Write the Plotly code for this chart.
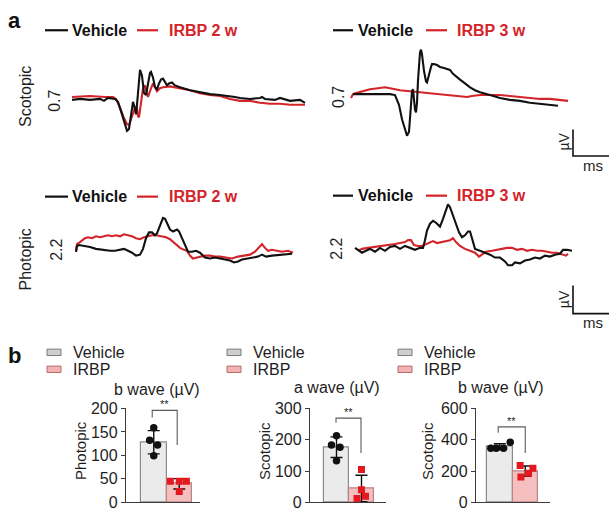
import numpy as np
import plotly.graph_objects as go

W, H = 609, 520
FONT = "Liberation Sans, Arial, Helvetica, sans-serif"
INK = "#1e1e1e"
BLACK = "#111111"
RED = "#d3242a"
SQUARE_RED = "#e3191f"
VEH_FILL, VEH_EDGE = "#ebebeb", "#8a8a8a"
IRBP_FILL, IRBP_EDGE = "#f5bfbf", "#b98484"

# ---------------- ERG traces: time (ms) and amplitude (uV) ----------------
# Scotopic, Vehicle vs IRBP 2 w
TL_VEH_T = [0, 8, 18, 28, 32, 36, 43, 46, 50, 53, 55, 57, 59, 60, 61, 63, 64, 65, 67, 68,
            70, 72, 74, 76, 78, 79, 81, 83, 85, 87, 89, 91, 93, 95, 97, 100, 103, 108, 118, 128,
            138, 148, 158, 163, 168, 178, 188, 190, 193, 203, 208, 218, 228, 231, 233]
TL_VEH_V = [-4, 0, -4, 0, -8, 4, 0, -12, -64, -112, -132, -124, -76, -36, -12, -40, -64, -24, 76, 120,
            96, 24, 16, 64, 108, 112, 88, 48, 40, 64, 80, 84, 68, 56, 64, 68, 56, 48, 36, 28,
            20, 16, 12, 8, 4, 0, 4, 8, 0, -4, 4, -8, -4, -12, -16]
TL_IRBP_T = [0, 18, 33, 41, 44, 48, 52, 55, 57, 59, 61, 63, 65, 66, 67, 69, 71, 73, 75, 76,
             78, 80, 81, 83, 85, 88, 91, 98, 103, 108, 118, 128, 138, 148, 158, 168, 178, 188, 198, 208,
             218, 233]
TL_IRBP_V = [8, 12, 8, 8, 0, -36, -80, -104, -108, -84, -52, -36, -40, -72, -76, -24, 44, 56, 28, 8,
             32, 56, 64, 48, 32, 44, 48, 52, 48, 44, 36, 24, 16, 12, 0, -8, -8, -16, -20, -20,
             -24, -24]

# Scotopic, Vehicle vs IRBP 3 w
TR_VEH_T = [2, 9, 19, 29, 39, 44, 48, 51, 54, 56, 58, 59, 60, 61, 62, 63, 64, 65, 66, 67,
            68, 69, 70, 71, 73, 75, 76, 78, 80, 81, 83, 86, 89, 93, 96, 99, 102, 105, 109, 114,
            119, 124, 129, 139, 149, 159, 169, 179, 189, 199, 207]
TR_VEH_V = [0, 0, 0, 0, 0, -4, -44, -104, -152, -172, -156, -104, -44, 12, 20, -24, -64, -76, -36, 56,
            136, 172, 184, 164, 96, 52, 48, 84, 112, 124, 124, 120, 112, 108, 104, 100, 84, 72, 60, 44,
            28, 16, 8, -4, -16, -24, -28, -36, -40, -44, -48]
TR_IRBP_T = [0, 2, 5, 11, 19, 27, 34, 39, 44, 49, 59, 69, 79, 89, 99, 109, 116, 121, 129, 139,
             149, 159, 169, 179, 189, 199, 209, 217]
TR_IRBP_V = [-16, 0, 4, 12, 20, 24, 28, 24, 20, 16, 12, 8, 4, 0, -4, -8, -12, -8, -4, -4,
             -4, -8, -12, -16, -20, -20, -24, -28]

# Photopic, Vehicle vs IRBP 2 w
BL_VEH_T = [0, 1, 3, 8, 14, 20, 26, 34, 39, 44, 48, 52, 56, 60, 64, 67, 70, 73, 76, 79,
            81, 84, 87, 89, 92, 94, 97, 101, 103, 106, 109, 112, 116, 120, 124, 129, 134, 139, 144, 149,
            154, 158, 162, 166, 171, 176, 182, 186, 190, 196, 204, 210, 216]
BL_VEH_V = [-5, 10, 12.5, 10, 7.5, 2.5, 0, -2.5, -2.5, 0, 2.5, -2.5, -7.5, -15, -12.5, 2.5, 30, 45, 45, 37.5,
            42.5, 62.5, 82.5, 80, 62.5, 52.5, 47.5, 52.5, 47.5, 30, 10, -5, -5, -2.5, -7.5, -20, -22.5, -20, -22.5, -25,
            -27.5, -32.5, -30, -25, -22.5, -20, -17.5, -12.5, -17.5, -15, -12.5, -12.5, -10]
BL_IRBP_T = [0, 1, 4, 9, 12, 16, 20, 24, 28, 32, 36, 40, 44, 48, 52, 56, 60, 64, 68, 72,
             76, 80, 84, 87, 90, 94, 97, 101, 104, 108, 111, 114, 117, 121, 124, 129, 134, 139, 144, 150,
             156, 162, 169, 174, 179, 182, 186, 189, 192, 196, 202, 206, 212, 217]
BL_IRBP_V = [-5, 15, 20, 30, 32.5, 30, 35, 32.5, 35, 37.5, 35, 37.5, 35, 40, 37.5, 35, 30, 27.5, 32.5, 35,
             37.5, 37.5, 35, 32.5, 32.5, 27.5, 20, 10, 5, 0, -2.5, -15, -22.5, -20, -17.5, -15, -15, -17.5, -17.5, -20,
             -22.5, -17.5, -15, -12.5, -5, 2.5, 15, 5, -2.5, 0, -2.5, -5, -2.5, -7.5]

# Photopic, Vehicle vs IRBP 3 w
BR_VEH_T = [0, 3, 7, 11, 15, 20, 25, 30, 35, 40, 45, 50, 55, 60, 65, 68, 70, 72, 75, 78,
            81, 85, 88, 91, 93, 95, 98, 101, 104, 107, 110, 113, 115, 117, 120, 125, 130, 135, 140, 145,
            150, 153, 157, 160, 165, 170, 175, 180, 185, 190, 195, 200, 205, 208, 212, 217]
BR_VEH_V = [5, 0, -7.5, -2.5, 2.5, -5, 5, -2.5, 7.5, 10, 2.5, 10, 5, 0, 5, 5, 25, 50, 67.5, 75,
            70, 60, 80, 105, 117.5, 110, 87.5, 62.5, 45, 32.5, 37.5, 47.5, 47.5, 30, 2.5, -2.5, -7.5, -12.5, -20, -20,
            -30, -40, -40, -32.5, -35, -27.5, -25, -20, -22.5, -15, -17.5, -12.5, -10, 0, 0, -2.5]
BR_IRBP_T = [3, 7, 13, 20, 25, 30, 35, 40, 45, 50, 53, 56, 59, 63, 67, 71, 75, 78, 82, 86,
             90, 95, 98, 101, 105, 110, 115, 120, 124, 127, 131, 137, 142, 147, 152, 157, 162, 167, 172, 177,
             182, 187, 192, 197, 202, 207, 211, 213]
BR_IRBP_V = [-2.5, 2.5, 5, 7.5, 10, 10, 12.5, 15, 17.5, 20, 25, 25, 12.5, 10, 10, 15, 20, 22.5, 17.5, 20,
             22.5, 25, 30, 20, 10, 2.5, -2.5, -7.5, -17.5, -12.5, -5, -2.5, 0, 2.5, 5, 5, 0, 2.5, -2.5, 0,
             -2.5, -2.5, -5, -7.5, -7.5, -12.5, -15, -10]

# Scale bars (uV, ms)
SCOT_BAR_UV, PHOT_BAR_UV, BAR_MS = 110, 72.5, 40

# ---------------- Bar chart data (individual animals) ----------------
GROUPS = ["Vehicle", "IRBP"]
PHOT_B_VEH = [159, 132, 122, 99]
PHOT_B_IRBP = [45, 45, 45, 23]
SCOT_A_VEH = [213, 183, 176, 133]
SCOT_A_IRBP = [105, 40, 19, 12]
SCOT_B_VEH = [346, 346, 346, 384]
SCOT_B_IRBP = [235, 217, 186, 161]
PHOT_B_TICKS = [0, 50, 100, 150, 200]
SCOT_A_TICKS = [0, 100, 200, 300]
SCOT_B_TICKS = [0, 200, 400, 600]

# ---------------- layout helpers ----------------
def fx(p):
    return p / W


def fy(p):
    return 1 - p / H


fig = go.Figure()
layout = {}
annotations = []
shapes = []

MS_PX = 1.0
erg_panels = [
    dict(ax=1, veh=(TL_VEH_T, TL_VEH_V), irbp=(TL_IRBP_T, TL_IRBP_V), origin=(72, 94), uv_px=4.0,
         box=(66, 30, 312, 150), bar=None),
    dict(ax=2, veh=(TR_VEH_T, TR_VEH_V), irbp=(TR_IRBP_T, TR_IRBP_V), origin=(351, 89), uv_px=4.0,
         box=(345, 28, 609, 165), bar=(222, -256, SCOT_BAR_UV)),
    dict(ax=3, veh=(BL_VEH_T, BL_VEH_V), irbp=(BL_IRBP_T, BL_IRBP_V), origin=(76, 250), uv_px=2.5,
         box=(70, 190, 300, 300), bar=None),
    dict(ax=4, veh=(BR_VEH_T, BR_VEH_V), irbp=(BR_IRBP_T, BR_IRBP_V), origin=(355, 250), uv_px=2.5,
         box=(349, 185, 609, 335), bar=(218, -165, PHOT_BAR_UV)),
]

for p in erg_panels:
    n = p["ax"]
    xa, ya = ("x", "y") if n == 1 else (f"x{n}", f"y{n}")
    xname, yname = ("xaxis", "yaxis") if n == 1 else (f"xaxis{n}", f"yaxis{n}")
    l, t, r, b = p["box"]
    x0, base = p["origin"]
    uv = p["uv_px"]
    layout[xname] = dict(domain=[fx(l), fx(r)], range=[(l - x0) * MS_PX, (r - x0) * MS_PX],
                         visible=False, anchor=ya, fixedrange=True)
    layout[yname] = dict(domain=[fy(b), fy(t)], range=[(base - b) * uv, (base - t) * uv],
                         visible=False, anchor=xa, fixedrange=True)
    fig.add_trace(go.Scatter(x=p["irbp"][0], y=p["irbp"][1], mode="lines",
                             line=dict(color=RED, width=2.1), xaxis=xa, yaxis=ya, hoverinfo="skip"))
    fig.add_trace(go.Scatter(x=p["veh"][0], y=p["veh"][1], mode="lines",
                             line=dict(color=BLACK, width=2.1), xaxis=xa, yaxis=ya, hoverinfo="skip"))
    if p["bar"]:
        t0, v0, dv = p["bar"]
        fig.add_trace(go.Scatter(x=[t0, t0, t0 + BAR_MS], y=[v0 + dv, v0, v0], mode="lines",
                                 line=dict(color=BLACK, width=1.6), xaxis=xa, yaxis=ya, hoverinfo="skip"))

# panel a legends (line samples + labels)
legend_rows = [
    (23, 45, 68, 70, 137, 158, 167, "IRBP 2 w"),
    (23, 333, 353, 356, 426, 447, 455, "IRBP 3 w"),
    (195, 45, 68, 70, 137, 158, 167, "IRBP 2 w"),
    (194, 333, 353, 356, 426, 447, 455, "IRBP 3 w"),
]
for yy, a0, a1, tv, b0, b1, ti, lab in legend_rows:
    shapes.append(dict(type="line", xref="paper", yref="paper", x0=fx(a0), x1=fx(a1), y0=fy(yy), y1=fy(yy),
                       line=dict(color=BLACK, width=2.2)))
    shapes.append(dict(type="line", xref="paper", yref="paper", x0=fx(b0), x1=fx(b1), y0=fy(yy), y1=fy(yy),
                       line=dict(color=RED, width=2.2)))
    annotations.append(dict(text="<b>Vehicle</b>", x=fx(tv), y=fy(yy), xref="paper", yref="paper",
                            xanchor="left", yanchor="middle", showarrow=False,
                            font=dict(family=FONT, size=16, color=BLACK)))
    annotations.append(dict(text=f"<b>{lab}</b>", x=fx(ti), y=fy(yy), xref="paper", yref="paper",
                            xanchor="left", yanchor="middle", showarrow=False,
                            font=dict(family=FONT, size=16, color=RED)))

# rotated labels in panel a
rot_labels = [
    ("Scotopic", 26, 92, 16), ("0.7", 55, 96, 16), ("0.7", 339, 92, 16),
    ("Photopic", 25, 260, 16), ("2.2", 57, 250, 16), ("2.2", 337, 249, 16),
    ("µV", 564, 138, 14), ("µV", 564, 301, 14),
]
for txt, xx, yy, sz in rot_labels:
    annotations.append(dict(text=txt, x=fx(xx), y=fy(yy), xref="paper", yref="paper", textangle=-90,
                            xanchor="center", yanchor="middle", showarrow=False,
                            font=dict(family=FONT, size=sz, color=INK)))
for yy in (163, 325):
    annotations.append(dict(text="ms", x=fx(593), y=fy(yy), xref="paper", yref="paper",
                            xanchor="center", yanchor="middle", showarrow=False,
                            font=dict(family=FONT, size=15, color=INK)))

# panel letters
for txt, xx, yy in (("a", 14, 13), ("b", 14, 359)):
    annotations.append(dict(text=f"<b>{txt}</b>", x=fx(xx), y=fy(yy), xref="paper", yref="paper",
                            xanchor="center", yanchor="middle", showarrow=False,
                            font=dict(family=FONT, size=22, color=BLACK)))

# ---------------- panel b bar charts ----------------
bar_charts = [
    dict(ax=5, veh=PHOT_B_VEH, irbp=PHOT_B_IRBP, ticks=PHOT_B_TICKS,
         jv=[0.0, -0.16, 0.15, 0.0], ji=[-0.35, 0.0, 0.28, 0.0],
         box=(126, 414, 200, 511), unit_px=25.5, center_px=153.75,
         bracket=(-0.06, 0.92, 181, 196, 122),
         title="b wave (µV)", title_xy=(157, 394), ylab="Photopic", ylab_x=80, leg_x=47),
    dict(ax=6, veh=SCOT_A_VEH, irbp=SCOT_A_IRBP, ticks=SCOT_A_TICKS,
         jv=[0.0, -0.2, 0.14, 0.0], ji=[0.0, 0.0, 0.16, -0.18],
         box=(310, 414, 386, 511), unit_px=25.0, center_px=336.5,
         bracket=(-0.02, 0.98, 254, 269, 158),
         title="a wave (µV)", title_xy=(337, 392), ylab="Scotopic", ylab_x=264, leg_x=227),
    dict(ax=7, veh=SCOT_B_VEH, irbp=SCOT_B_IRBP, ticks=SCOT_B_TICKS,
         jv=[-0.35, -0.14, 0.15, 0.41], ji=[-0.2, 0.3, 0.13, -0.17],
         box=(476, 414, 550, 511), unit_px=25.5, center_px=499.75,
         bracket=(-0.06, 1.0, 445, 482, 316),
         title="b wave (µV)", title_xy=(501, 392), ylab="Scotopic", ylab_x=427, leg_x=398),
]

for c in bar_charts:
    n = c["ax"]
    xa, ya = f"x{n}", f"y{n}"
    l, t, r, b = c["box"]
    u, cp = c["unit_px"], c["center_px"]
    layout[f"xaxis{n}"] = dict(domain=[fx(l), fx(r)], range=[(l - cp) / u, (r - cp) / u], anchor=ya,
                               showline=True, linecolor="#3c3c3c", linewidth=1.3, ticks="",
                               showticklabels=False, showgrid=False, zeroline=False, fixedrange=True)
    layout[f"yaxis{n}"] = dict(domain=[fy(b), fy(t)], range=[0, c["ticks"][-1]], anchor=xa,
                               showline=True, linecolor="#3c3c3c", linewidth=1.3, ticks="outside",
                               ticklen=4, tickwidth=1.3, tickcolor="#3c3c3c", tickvals=c["ticks"],
                               tickfont=dict(family=FONT, size=16, color=INK), showgrid=False,
                               zeroline=False, fixedrange=True)
    veh = np.array(c["veh"], float)
    irbp = np.array(c["irbp"], float)
    means = [veh.mean(), irbp.mean()]
    sds = [veh.std(ddof=1), irbp.std(ddof=1)]
    fig.add_trace(go.Bar(x=[0, 1], y=means, width=[1, 1], xaxis=xa, yaxis=ya, hoverinfo="skip",
                         marker=dict(color=[VEH_FILL, IRBP_FILL],
                                     line=dict(color=[VEH_EDGE, IRBP_EDGE], width=1.2)),
                         error_y=dict(type="data", array=sds, color=BLACK, thickness=1.4, width=6)))
    fig.add_trace(go.Scatter(x=[0 + j for j in c["jv"]], y=veh, mode="markers", xaxis=xa, yaxis=ya,
                             marker=dict(symbol="circle", size=7.5, color=BLACK), hoverinfo="skip"))
    fig.add_trace(go.Scatter(x=[1 + j for j in c["ji"]], y=irbp, mode="markers", xaxis=xa, yaxis=ya,
                             marker=dict(symbol="square", size=7, color=SQUARE_RED), hoverinfo="skip"))
    xl, xr, yl, ytop, yr = c["bracket"]
    fig.add_trace(go.Scatter(x=[xl, xl, xr, xr], y=[yl, ytop, ytop, yr], mode="lines", xaxis=xa, yaxis=ya,
                             line=dict(color="#5a5a5a", width=1.1), hoverinfo="skip"))
    annotations.append(dict(text="**", x=(xl + xr) / 2, y=ytop, xref=xa, yref=ya, xanchor="center",
                            yanchor="bottom", showarrow=False, yshift=-2,
                            font=dict(family=FONT, size=11, color=INK)))
    # titles
    tx, ty = c["title_xy"]
    annotations.append(dict(text=c["title"], x=fx(tx), y=fy(ty), xref="paper", yref="paper",
                            xanchor="center", yanchor="middle", showarrow=False,
                            font=dict(family=FONT, size=16, color=INK)))
    annotations.append(dict(text=c["ylab"], x=fx(c["ylab_x"]), y=fy(458), xref="paper", yref="paper",
                            textangle=-90, xanchor="center", yanchor="middle", showarrow=False,
                            font=dict(family=FONT, size=15, color=INK)))
    # legend boxes
    lx = c["leg_x"]
    for (yy, fill, edge, name) in ((356, "#cfcfcf", "#7a7a7a", GROUPS[0]),
                                   (373.5, "#f3b3b3", "#b46a6a", GROUPS[1])):
        shapes.append(dict(type="rect", xref="paper", yref="paper", x0=fx(lx), x1=fx(lx + 14),
                           y0=fy(yy + 3.3), y1=fy(yy - 3.3), fillcolor=fill, line=dict(color=edge, width=1)))
        annotations.append(dict(text=name, x=fx(lx + 24), y=fy(yy), xref="paper", yref="paper",
                                xanchor="left", yanchor="middle", showarrow=False,
                                font=dict(family=FONT, size=16, color=INK)))

fig.update_layout(
    width=W, height=H, margin=dict(l=0, r=0, t=0, b=0),
    paper_bgcolor="white", plot_bgcolor="white", showlegend=False,
    bargap=0, annotations=annotations, shapes=shapes, **layout,
)

fig.write_html("out.html", config={"displayModeBar": False},
               post_script="document.body.style.margin='0';")
